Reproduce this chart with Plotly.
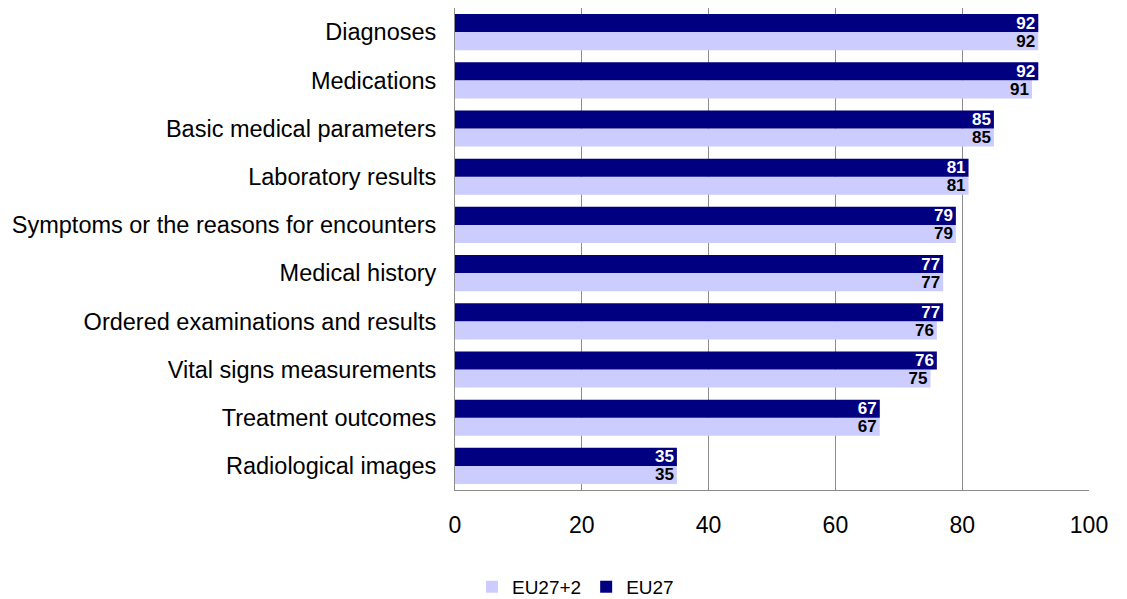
import plotly.graph_objects as go

categories = ["Diagnoses", "Medications", "Basic medical parameters", "Laboratory results",
              "Symptoms or the reasons for encounters", "Medical history",
              "Ordered examinations and results", "Vital signs measurements",
              "Treatment outcomes", "Radiological images"]
eu27 = [92, 92, 85, 81, 79, 77, 77, 76, 67, 35]
eu27_2 = [92, 91, 85, 81, 79, 77, 76, 75, 67, 35]

fig = go.Figure()
fig.add_trace(go.Bar(
    y=categories, x=eu27_2, name="EU27+2", orientation="h",
    marker=dict(color="#CCCCFF", line=dict(width=0)),
    text=eu27_2, texttemplate="<b>%{x}</b>", textposition="inside", textangle=0,
    insidetextanchor="end", constraintext="none",
    textfont=dict(color="black", size=17, family="Liberation Sans Narrow, Liberation Sans, Arial"),
))
fig.add_trace(go.Bar(
    y=categories, x=eu27, name="EU27", orientation="h",
    marker=dict(color="#000080", line=dict(width=0)),
    text=eu27, texttemplate="<b>%{x}</b>", textposition="inside", textangle=0,
    insidetextanchor="end", constraintext="none",
    textfont=dict(color="white", size=17, family="Liberation Sans Narrow, Liberation Sans, Arial"),
))

fig.update_layout(
    width=1127, height=599,
    margin=dict(l=447, r=46, t=0, b=117, autoexpand=False),
    barmode="group", bargap=0.25, bargroupgap=0,
    plot_bgcolor="white", paper_bgcolor="white",
    font=dict(family="Liberation Sans, Arial", size=23, color="black"),
    uniformtext=dict(minsize=17, mode="show"),
    legend=dict(orientation="h", x=0.19, y=-0.201, xanchor="center", yanchor="middle",
                font=dict(size=19), traceorder="normal", itemwidth=30),
    xaxis=dict(range=[0, 100], dtick=20, showgrid=True, gridcolor="#8c8c8c", gridwidth=1,
               showline=True, linecolor="#8c8c8c", linewidth=1, mirror=False,
               ticks="", ticklabelstandoff=14, tickfont=dict(size=23), zeroline=False,
               automargin=False),
    yaxis=dict(categoryorder="array", categoryarray=categories[::-1],
               showline=True, linecolor="#8c8c8c", linewidth=1, ticks="",
               ticklabelstandoff=13, tickfont=dict(size=23.5), automargin=False),
)

fig.write_html("out.html")
